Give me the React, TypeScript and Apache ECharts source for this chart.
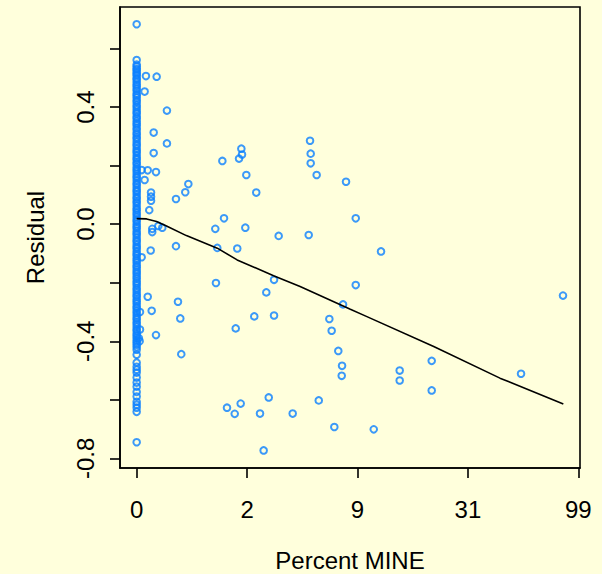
import React, { useEffect, useRef } from "react";
import * as echarts from "echarts";

// x positions are on the plot's transformed scale (tick k -> label xTickLabels[k])
const xTickPositions = [0, 1, 2, 3, 4];
const xTickLabels = ["0", "2", "9", "31", "99"];
const yTickValues = [-0.8, -0.6, -0.4, -0.2, 0, 0.2, 0.4, 0.6];
const yLabelValues = [-0.8, -0.4, 0, 0.4];

// Residuals of the many observations with Percent MINE = 0 (dense column)
const zeroColumnResiduals = [
  0.683, 0.561, 0.545, 0.539, 0.531, 0.527, 0.519, 0.513, 0.508, 0.499, 0.494,
  0.486, 0.477, 0.471, 0.463, 0.456, 0.446, 0.44, 0.432, 0.423, 0.417, 0.407,
  0.4, 0.392, 0.383, 0.377, 0.367, 0.361, 0.352, 0.344, 0.338, 0.329, 0.322,
  0.312, 0.306, 0.297, 0.291, 0.282, 0.273, 0.267, 0.258, 0.25, 0.244, 0.235,
  0.226, 0.22, 0.211, 0.205, 0.195, 0.188, 0.181, 0.172, 0.164, 0.158, 0.149,
  0.14, 0.134, 0.125, 0.117, 0.111, 0.102, 0.093, 0.087, 0.078, 0.072, 0.063,
  0.054, 0.048, 0.039, 0.032, 0.024, 0.015, 0.009, 0.0, -0.008, -0.014, -0.023,
  -0.031, -0.037, -0.046, -0.055, -0.061, -0.07, -0.078, -0.084, -0.093,
  -0.101, -0.108, -0.117, -0.124, -0.132, -0.141, -0.147, -0.156, -0.163,
  -0.17, -0.179, -0.186, -0.195, -0.202, -0.209, -0.218, -0.225, -0.233,
  -0.242, -0.248, -0.257, -0.264, -0.272, -0.281, -0.287, -0.296, -0.303,
  -0.311, -0.32, -0.326, -0.335, -0.342, -0.35, -0.359, -0.365, -0.374,
  -0.381, -0.389, -0.397, -0.404, -0.412, -0.42, -0.429, -0.446, -0.473,
  -0.487, -0.497, -0.507, -0.524, -0.541, -0.555, -0.573, -0.589, -0.607,
  -0.617, -0.627, -0.641, -0.745,
];

// Scattered observations with Percent MINE > 0
const scatterX = [
  0.084, 0.181, 0.072, 0.274, 0.154, 0.274, 0.154, 0.948, 0.954, 0.927, 0.776,
  1.57, 1.576, 1.576, 1.63, 1.896, 0.993, 1.083, 0.045, 0.1, 0.175, 0.072,
  0.468, 0.44, 0.356, 0.13, 0.13, 0.13, 0.114, 0.791, 0.712, 0.984, 1.286,
  1.558, 0.141, 0.141, 0.196, 0.232, 0.356, 0.127, 0.73, 0.911, 0.045, 1.244,
  1.174, 0.718, 1.869, 0.1, 0.374, 0.136, 0.395, 1.065, 1.244, 0.897, 0.175,
  0.027, 0.404, 1.745, 1.766, 1.826, 1.86, 1.857, 1.649, 1.196, 0.942, 0.818,
  0.888, 1.117, 1.413, 1.79, 1.15, 1.984, 2.213, 1.984, 2.147, 2.382, 2.382,
  2.672, 2.672, 3.481, 3.861, 0.03, 0.03, 0.02,
];
const scatterY = [
  0.506, 0.504, 0.453, 0.388, 0.313, 0.276, 0.243, 0.258, 0.238, 0.224, 0.216,
  0.285, 0.241, 0.208, 0.168, 0.145, 0.168, 0.108, 0.185, 0.184, 0.178, 0.151,
  0.137, 0.109, 0.086, 0.108, 0.094, 0.08, 0.048, 0.02, -0.016, -0.012, -0.04,
  -0.037, -0.016, -0.027, -0.006, -0.012, -0.075, -0.09, -0.081, -0.083,
  -0.113, -0.19, -0.233, -0.201, -0.274, -0.248, -0.265, -0.296, -0.322,
  -0.315, -0.312, -0.356, -0.379, -0.4, -0.444, -0.324, -0.364, -0.433,
  -0.484, -0.518, -0.602, -0.592, -0.613, -0.627, -0.648, -0.647, -0.647,
  -0.693, -0.773, 0.02, -0.093, -0.208, -0.701, -0.5, -0.534, -0.467, -0.568,
  -0.511, -0.244, -0.3, -0.36, -0.39,
];

// Smooth fit line
const fitX = [0, 0.09, 0.18, 0.27, 0.45, 0.73, 0.91, 1.24, 1.48, 1.93, 2.08, 2.69, 3.29, 3.864];
const fitY = [0.019, 0.018, 0.009, -0.006, -0.039, -0.082, -0.122, -0.176, -0.213, -0.29, -0.315, -0.418, -0.526, -0.614];

const BLUE = "#0A80FF";
const FONT = "'Liberation Sans', Arial, Helvetica, sans-serif";

export default function App() {
  const ref = useRef<HTMLDivElement>(null);
  useEffect(() => {
    if (!ref.current) return;
    const chart = echarts.init(ref.current, undefined, { renderer: "svg" });
    const points: number[][] = [];
    zeroColumnResiduals.forEach((y) => points.push([0, y]));
    scatterX.forEach((x, i) => points.push([x, scatterY[i]]));
    const fit = fitX.map((x, i) => [x, fitY[i]]);
    chart.setOption({
      animation: false,
      backgroundColor: "#FFFFDC",
      textStyle: { fontFamily: FONT },
      grid: {
        left: 120,
        top: 7,
        right: 22,
        bottom: 106,
        show: true,
        borderColor: "#000",
        borderWidth: 1.6,
        backgroundColor: "transparent",
        containLabel: false,
        outerBoundsMode: "none",
      },
      xAxis: {
        type: "value",
        min: -0.151,
        max: 4.015,
        name: "Percent MINE",
        nameLocation: "middle",
        nameGap: 80,
        nameTextStyle: { fontSize: 24, color: "#000", fontFamily: FONT },
        axisLine: { show: true, onZero: false, lineStyle: { color: "#000", width: 1.6 } },
        splitLine: { show: false },
        axisTick: {
          show: true,
          length: 10,
          customValues: xTickPositions,
          lineStyle: { color: "#000", width: 1.6 },
        },
        axisLabel: {
          customValues: xTickPositions,
          margin: 29,
          fontSize: 24,
          color: "#000",
          formatter: (v: number) => {
            const i = xTickPositions.indexOf(Math.round(v));
            return i >= 0 ? xTickLabels[i] : "";
          },
        },
      },
      yAxis: {
        type: "value",
        min: -0.833,
        max: 0.742,
        name: "Residual",
        nameLocation: "middle",
        nameRotate: 90,
        nameGap: 73,
        nameTextStyle: { fontSize: 24, color: "#000", fontFamily: FONT },
        axisLine: { show: true, onZero: false, lineStyle: { color: "#000", width: 1.6 } },
        splitLine: { show: false },
        axisTick: {
          show: true,
          length: 10,
          customValues: yTickValues,
          lineStyle: { color: "#000", width: 1.6 },
        },
        axisLabel: {
          customValues: yLabelValues,
          rotate: 90,
          margin: 23,
          fontSize: 24,
          color: "#000",
          formatter: (v: number) => v.toFixed(1),
        },
      },
      series: [
        {
          type: "scatter",
          data: points,
          symbol: "circle",
          symbolSize: 6.6,
          itemStyle: { color: "rgba(0,0,0,0)", borderColor: BLUE, borderWidth: 2 },
        },
        {
          type: "line",
          data: fit,
          showSymbol: false,
          symbol: "none",
          lineStyle: { color: "#000", width: 1.6 },
        },
      ],
    });
    return () => chart.dispose();
  }, []);
  return (
    <div
      ref={ref}
      style={{ position: "fixed", left: 0, top: 0, width: 602, height: 574 }}
    />
  );
}
